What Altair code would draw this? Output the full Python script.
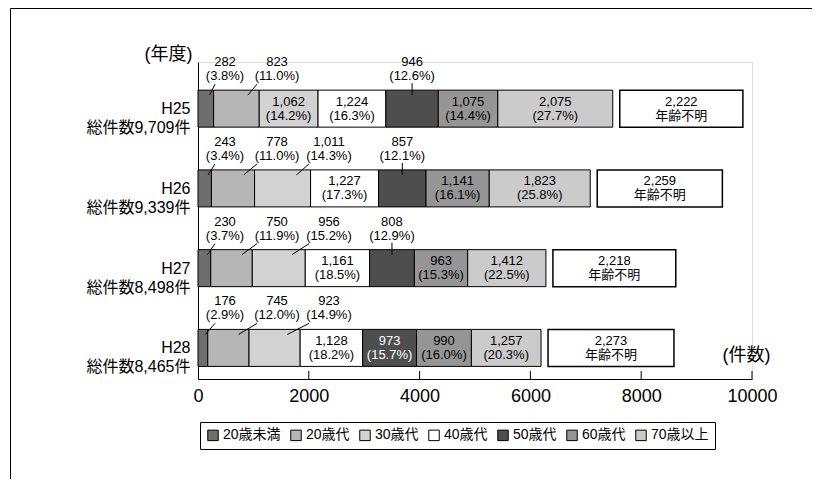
import json
import altair as alt
import pandas as pd

# ---------------- data ----------------
years = ["H25", "H26", "H27", "H28"]
totals = [9709, 9339, 8498, 8465]
categories = ["20歳未満", "20歳代", "30歳代", "40歳代", "50歳代", "60歳代", "70歳以上"]
counts_h25 = [282, 823, 1062, 1224, 946, 1075, 2075]
counts_h26 = [243, 778, 1011, 1227, 857, 1141, 1823]
counts_h27 = [230, 750, 956, 1161, 808, 963, 1412]
counts_h28 = [176, 745, 923, 1128, 973, 990, 1257]
shares_h25 = [3.8, 11.0, 14.2, 16.3, 12.6, 14.4, 27.7]
shares_h26 = [3.4, 11.0, 14.3, 17.3, 12.1, 16.1, 25.8]
shares_h27 = [3.7, 11.9, 15.2, 18.5, 12.9, 15.3, 22.5]
shares_h28 = [2.9, 12.0, 14.9, 18.2, 15.7, 16.0, 20.3]
unknown = [2222, 2259, 2218, 2273]
unknown_label = "年齢不明"
x_ticks = [0, 2000, 4000, 6000, 8000, 10000]
labels_above = {
    "H25": ["20歳未満", "20歳代", "50歳代"],
    "H26": ["20歳未満", "20歳代", "30歳代", "50歳代"],
    "H27": ["20歳未満", "20歳代", "30歳代", "50歳代"],
    "H28": ["20歳未満", "20歳代", "30歳代"],
}
counts = [counts_h25, counts_h26, counts_h27, counts_h28]
shares = [shares_h25, shares_h26, shares_h27, shares_h28]

# ---------------- style / layout ----------------
fills = ["#6e6e6e", "#b6b6b6", "#d2d2d2", "#ffffff", "#4e4e4e", "#959595", "#cbcbcb"]
dark_text = {("H28", "50歳代")}
FONT = "Liberation Sans, Noto Sans CJK JP"
W, H = 554, 317
X_MAX = 10000
UX = X_MAX / W                      # data units per pixel (x)
Y_MIN, Y_MAX = -0.585, 3.39
UY = (Y_MAX - Y_MIN) / H            # data units per pixel (y)
HALF = 18.5 * UY
GAP = 7 * UX
SLOT0, SLOT_STEP = 27 * UX, 52 * UX
LEADER_DX = [-10 * UX, -20 * UX, -20 * UX]

seg_rows, in_rows, up_rows, lead_rows, box_rows = [], [], [], [], []
for i, yr in enumerate(years):
    start = 0
    for k, cat in enumerate(categories):
        v = counts[i][k]
        p = shares[i][k]
        x0, x1 = start, start + v
        start = x1
        seg_rows.append(dict(year=yr, cat=cat, x0=x0, x1=x1, y0=i - HALF, y1=i + HALF))
        num = f"{v:,}"
        pct = f"({p:.1f}%)"
        col = "white" if (yr, cat) in dark_text else "black"
        top = i - HALF
        if cat in labels_above[yr]:
            if k < 3:
                lx = SLOT0 + SLOT_STEP * k
                lead_rows.append(dict(x=lx + LEADER_DX[k], x2=x1 - 0.25 * v,
                                      y=top - 6 * UY, y2=top + 5 * UY))
            else:
                lx = (x0 + x1) / 2
                lead_rows.append(dict(x=lx, x2=lx, y=top - 7 * UY, y2=top + 5 * UY))
            up_rows.append(dict(x=lx, y1=top - 28 * UY, y2=top - 14 * UY, num=num, pct=pct))
        else:
            in_rows.append(dict(x=(x0 + x1) / 2, y1=i - 7 * UY, y2=i + 7 * UY,
                                num=num, pct=pct, col=col))
    bx0 = start + GAP
    box_rows.append(dict(x0=bx0, x1=bx0 + unknown[i], xm=bx0 + unknown[i] / 2,
                         y0=i - HALF, y1=i + HALF, ya=i - 7 * UY, yb=i + 7 * UY,
                         num=f"{unknown[i]:,}", lab=unknown_label))

seg = pd.DataFrame(seg_rows)
ins = pd.DataFrame(in_rows)
ups = pd.DataFrame(up_rows)
leads = pd.DataFrame(lead_rows)
boxes = pd.DataFrame(box_rows)
ticks_df = pd.DataFrame({"x": x_ticks[1:], "y": Y_MAX, "y2": Y_MAX - 8 * UY})

ylabels = [f"{yr}|総件数{t:,}件" for yr, t in zip(years, totals)]

xscale = alt.Scale(domain=[0, X_MAX], nice=False, zero=False)
yscale = alt.Scale(domain=[Y_MIN, Y_MAX], reverse=True, nice=False, zero=False)
xaxis = alt.Axis(values=x_ticks, format="d", title="(件数)", titleX=548, titleY=-24,
                 titleAlign="center", titleBaseline="middle", titleFontSize=18,
                 titleFontWeight="normal", titleFont=FONT, labelFont=FONT,
                 labelFontSize=18, ticks=False, grid=False, labelPadding=8,
                 labelOverlap=False, labelColor="black", titleColor="black",
                 domainColor="black", labelFlush=False)
yaxis = alt.Axis(values=[0, 1, 2, 3],
                 labelExpr="split(" + json.dumps(ylabels, ensure_ascii=False) + "[datum.value], '|')",
                 title="(年度)", titleAngle=0, titleAlign="right", titleBaseline="middle",
                 titleX=-6, titleY=-8, titleFontSize=18, titleFontWeight="normal",
                 titleFont=FONT, labelFont=FONT, labelFontSize=16, labelLineHeight=19,
                 labelPadding=8, ticks=False, grid=False, labelOverlap=False,
                 labelColor="black", titleColor="black", domainColor="black")


def X(f):
    return alt.X(f, type="quantitative", scale=xscale, axis=xaxis)


def Y(f):
    return alt.Y(f, type="quantitative", scale=yscale, axis=yaxis)


bars = alt.Chart(seg).mark_bar(stroke="black", strokeWidth=1).encode(
    x=X("x0"), x2="x1", y=Y("y0"), y2="y1",
    color=alt.Color("cat:N", scale=alt.Scale(domain=categories, range=fills),
                    sort=categories,
                    legend=alt.Legend(title=None, orient="none", legendX=2, legendY=360,
                                      direction="horizontal", columns=7,
                                      symbolType="square", symbolSize=110,
                                      symbolStrokeColor="black", symbolStrokeWidth=1,
                                      labelFont=FONT, labelFontSize=14, labelColor="black",
                                      columnPadding=7, labelOffset=3,
                                      strokeColor="black", padding=6)),
)
box_bars = alt.Chart(boxes).mark_bar(fill="white", stroke="black", strokeWidth=1.5).encode(
    x=X("x0"), x2="x1", y=Y("y0"), y2="y1")

txt = dict(font=FONT, fontSize=13, baseline="middle", align="center")
in_num = alt.Chart(ins).mark_text(**txt).encode(
    x=X("x"), y=Y("y1"), text="num:N", color=alt.Color("col:N", scale=None))
in_pct = alt.Chart(ins).mark_text(**txt).encode(
    x=X("x"), y=Y("y2"), text="pct:N", color=alt.Color("col:N", scale=None))
up_num = alt.Chart(ups).mark_text(color="black", **txt).encode(x=X("x"), y=Y("y1"), text="num:N")
up_pct = alt.Chart(ups).mark_text(color="black", **txt).encode(x=X("x"), y=Y("y2"), text="pct:N")
leaders = alt.Chart(leads).mark_rule(color="black", strokeWidth=1).encode(
    x=X("x"), x2="x2", y=Y("y"), y2="y2")
box_num = alt.Chart(boxes).mark_text(color="black", **txt).encode(x=X("xm"), y=Y("ya"), text="num:N")
box_lab = alt.Chart(boxes).mark_text(color="black", font=FONT, fontSize=13, baseline="middle",
                                     align="center").encode(x=X("xm"), y=Y("yb"), text="lab:N")
tick_rules = alt.Chart(ticks_df).mark_rule(color="black", strokeWidth=1).encode(
    x=X("x"), y=Y("y"), y2="y2")

frame_df = pd.DataFrame({"k": [0]})
frame_left = alt.Chart(frame_df).mark_rule(color="black", strokeWidth=1).encode(
    x=alt.value(-187.5), y=alt.value(-53.5), y2=alt.value(425))
frame_top = alt.Chart(frame_df).mark_rule(color="black", strokeWidth=1).encode(
    x=alt.value(-187.5), x2=alt.value(614.5), y=alt.value(-53.5))
frame_right = alt.Chart(frame_df).mark_rule(color="black", strokeWidth=1).encode(
    x=alt.value(614.5), y=alt.value(-53.5), y2=alt.value(425))

chart = alt.layer(
    bars, box_bars, in_num, in_pct, up_num, up_pct, leaders, box_num, box_lab,
    tick_rules, frame_left, frame_top, frame_right,
).properties(
    width=W, height=H,
    autosize=alt.AutoSizeParams(type="none"),
    padding={"left": 190, "top": 54, "right": 60, "bottom": 100},
).configure_view(stroke=None).configure(background="white")

chart.save("out.html", embed_options={"renderer": "svg", "actions": False})
